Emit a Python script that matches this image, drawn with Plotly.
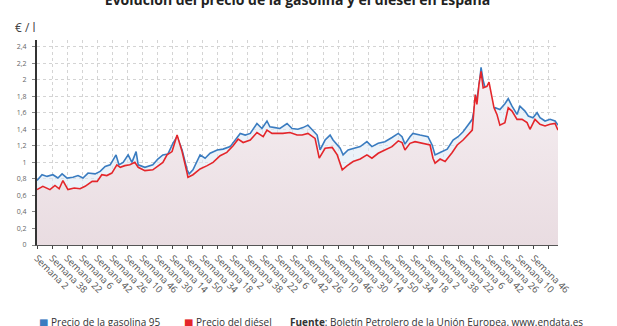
import plotly.graph_objects as go

# Weekly index (0 = week 2 of the first year) and average pump price, EUR per litre
semanas_gasolina = [0, 12, 24, 38, 50, 60, 72, 86, 98, 110, 122, 139, 151, 163, 175, 189, 196,
                    206, 218, 227, 237, 242, 258, 277, 289, 301, 313, 325, 335, 347, 359, 364,
                    373, 390, 402, 414, 431, 445, 462, 474, 486, 498, 510, 526, 538, 550, 557,
                    569, 581, 598, 610, 624, 636, 648, 660, 670, 677, 689, 701, 708, 725, 732,
                    744, 761, 773, 789, 801, 816, 832, 849, 864, 873, 880, 892, 899, 916, 935,
                    945, 952, 964, 981, 995, 1007, 1019, 1031, 1041, 1048, 1055, 1060, 1062,
                    1067, 1076, 1083, 1088, 1096, 1107, 1119, 1127, 1136, 1148, 1155, 1167,
                    1175, 1186, 1196, 1203, 1215, 1227, 1239, 1246]
precio_gasolina = [0.78, 0.85, 0.83, 0.85, 0.81, 0.86, 0.81, 0.82, 0.84, 0.81, 0.87, 0.86, 0.89,
                   0.95, 0.97, 1.09, 0.97, 1.00, 1.09, 1.00, 1.13, 0.97, 0.94, 0.97, 1.04, 1.09,
                   1.10, 1.23, 1.31, 1.15, 0.91, 0.86, 0.91, 1.09, 1.05, 1.11, 1.15, 1.16, 1.19,
                   1.27, 1.35, 1.33, 1.35, 1.47, 1.41, 1.50, 1.43, 1.42, 1.41, 1.47, 1.41, 1.40,
                   1.42, 1.45, 1.39, 1.33, 1.15, 1.27, 1.33, 1.27, 1.17, 1.09, 1.15, 1.17, 1.19,
                   1.25, 1.19, 1.23, 1.25, 1.30, 1.35, 1.31, 1.22, 1.31, 1.35, 1.33, 1.31, 1.21,
                   1.09, 1.12, 1.16, 1.27, 1.31, 1.37, 1.45, 1.52, 1.70, 1.85, 2.05, 2.15, 1.99,
                   1.83, 1.71, 1.60, 1.66, 1.64, 1.71, 1.77, 1.68, 1.58, 1.68, 1.62, 1.56, 1.54,
                   1.60, 1.54, 1.50, 1.52, 1.50, 1.45]

semanas_diesel = [0, 14, 31, 43, 53, 62, 74, 89, 103, 115, 132, 144, 155, 167, 179, 191, 199,
                  210, 222, 234, 242, 258, 277, 289, 301, 311, 323, 335, 347, 359, 361, 373,
                  390, 407, 421, 438, 454, 469, 481, 493, 510, 526, 541, 550, 562, 574, 588,
                  605, 622, 634, 648, 665, 675, 689, 706, 718, 730, 742, 756, 773, 789, 801,
                  816, 832, 849, 864, 873, 880, 892, 904, 923, 940, 947, 952, 964, 976, 993,
                  1005, 1019, 1031, 1041, 1048, 1052, 1057, 1062, 1067, 1076, 1081, 1088, 1093,
                  1100, 1107, 1119, 1127, 1136, 1148, 1160, 1172, 1179, 1191, 1203, 1215, 1227,
                  1239, 1246]
precio_diesel = [0.67, 0.71, 0.67, 0.72, 0.68, 0.78, 0.67, 0.69, 0.68, 0.71, 0.77, 0.77, 0.85,
                 0.84, 0.87, 0.97, 0.94, 0.96, 0.97, 1.00, 0.94, 0.90, 0.91, 0.96, 1.00, 1.09,
                 1.13, 1.33, 1.13, 0.87, 0.82, 0.85, 0.92, 0.96, 1.00, 1.08, 1.12, 1.20, 1.28,
                 1.24, 1.27, 1.36, 1.31, 1.39, 1.35, 1.35, 1.35, 1.36, 1.33, 1.33, 1.35, 1.29,
                 1.05, 1.17, 1.18, 1.09, 0.91, 0.96, 1.01, 1.04, 1.09, 1.05, 1.11, 1.15, 1.19,
                 1.26, 1.24, 1.15, 1.23, 1.25, 1.23, 1.21, 1.05, 0.99, 1.04, 1.01, 1.12, 1.21,
                 1.27, 1.34, 1.39, 1.82, 1.70, 1.94, 2.10, 1.90, 1.92, 1.97, 1.78, 1.66, 1.58,
                 1.45, 1.48, 1.66, 1.62, 1.52, 1.52, 1.48, 1.40, 1.52, 1.46, 1.44, 1.46, 1.47,
                 1.39]

# Axis ticks every 36 weeks starting at week 2; labels stop at the last full step
paso_etiquetas = 36
posiciones_etiquetas = list(range(0, 1225, paso_etiquetas))
ultima_etiqueta = 33
etiquetas_semana = [("Semana %d" % ((1 + p) % 52 + 1)) if i <= ultima_etiqueta else ""
                    for i, p in enumerate(posiciones_etiquetas)]

valores_eje_y = [0, 0.2, 0.4, 0.6, 0.8, 1, 1.2, 1.4, 1.6, 1.8, 2, 2.2, 2.4]

AZUL = "#3a7cc0"
ROJO = "#e4262b"
FUENTE = "Open Sans, DejaVu Sans, sans-serif"

fig = go.Figure()
fig.add_trace(go.Scatter(
    x=semanas_gasolina, y=precio_gasolina, name="Precio de la gasolina 95",
    mode="lines", line=dict(color=AZUL, width=1.6),
    fill="tozeroy", fillcolor="rgba(222,233,245,0.6)",
))
fig.add_trace(go.Scatter(
    x=semanas_diesel, y=precio_diesel, name="Precio del diésel",
    mode="lines", line=dict(color=ROJO, width=1.6),
    fill="tozeroy",
    fillgradient=dict(type="vertical",
                      colorscale=[[0, "#e9dce1"], [1, "#f6eff2"]]),
))

fig.update_layout(
    width=617, height=326,
    margin=dict(l=37, r=59, t=40, b=81),
    paper_bgcolor="white", plot_bgcolor="white",
    separators=", ",
    showlegend=False,
    font=dict(family=FUENTE, color="#555"),
    title=dict(text="<b>Evolución del precio de la gasolina y el diésel en España</b>",
               x=0.5, xref="paper", y=1, yref="container", yanchor="middle",
               xanchor="center", font=dict(size=14, color="#222", family=FUENTE)),
)

fig.update_xaxes(
    range=[0, semanas_gasolina[-1]],
    tickmode="array", tickvals=posiciones_etiquetas, ticktext=etiquetas_semana,
    tickangle=45, tickfont=dict(size=9.5, color="#555"),
    ticks="outside", ticklen=3, tickcolor="#444",
    showline=True, linecolor="#555", linewidth=1,
    showgrid=True, gridcolor="#d4d4d4", griddash="dot", gridwidth=1,
    zeroline=False,
)
fig.update_yaxes(
    range=[0, 2.48],
    tickmode="array", tickvals=valores_eje_y,
    tickfont=dict(size=7, color="#666"),
    ticks="outside", ticklen=3, tickcolor="#888",
    ticklabelstandoff=4,
    showline=True, linecolor="#333", linewidth=2,
    showgrid=True, gridcolor="#d4d4d4", griddash="dot", gridwidth=1,
    zeroline=False,
)

anotaciones = [
    dict(text="€ / l", x=-0.046, y=1.062, xanchor="left", yanchor="middle",
         font=dict(size=12, color="#444")),
    dict(text="<span style='color:%s'>■</span> Precio de la gasolina 95" % AZUL,
         x=(37 - 37) / 521, y=-0.376, xanchor="left", yanchor="middle",
         font=dict(size=10, color="#333")),
    dict(text="<span style='color:%s'>■</span> Precio del diésel" % ROJO,
         x=(182 - 37) / 521, y=-0.376, xanchor="left", yanchor="middle",
         font=dict(size=10, color="#333")),
    dict(text="<b>Fuente</b>: Boletín Petrolero de la Unión Europea. www.endata.es",
         x=(288 - 37) / 521, y=-0.376, xanchor="left", yanchor="middle",
         font=dict(size=10, color="#333")),
]
for a in anotaciones:
    a.update(xref="paper", yref="paper", showarrow=False)
fig.update_layout(annotations=anotaciones)

fig.write_html("out.html")
